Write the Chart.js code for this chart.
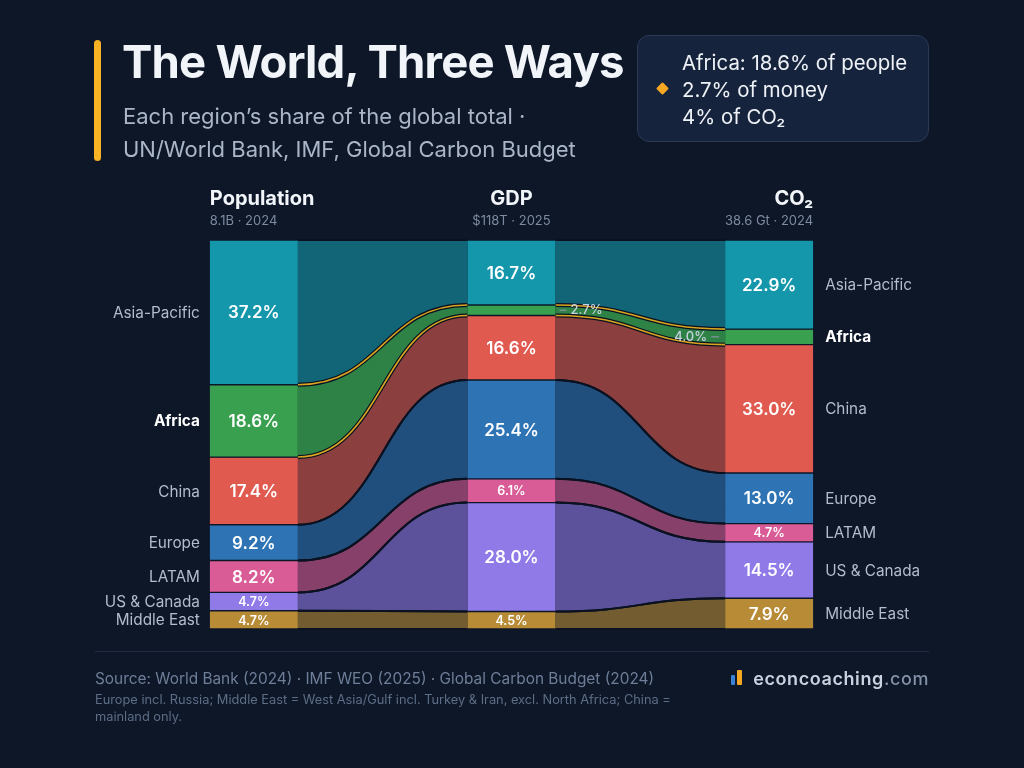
<!DOCTYPE html>
<html>
<head>
<meta charset="utf-8">
<script src="https://cdn.jsdelivr.net/npm/chart.js@4.4.1/dist/chart.umd.min.js"></script>
<style>
  html, body { margin: 0; padding: 0; background: #0d1728; }
  body { width: 1024px; height: 768px; position: relative; overflow: hidden; font-family: Inter, "Noto Sans", sans-serif; }
  #chart { position: absolute; left: 0; top: 0; }
  .accent { position: absolute; left: 94px; top: 40px; width: 7px; height: 121px; border-radius: 4px; background: #f7b324; }
  .title { position: absolute; left: 122px; top: 37px; font-size: 45.5px; line-height: 50px; font-weight: 700; color: #f1f4f8; letter-spacing: -0.8px; white-space: nowrap; }
  .subtitle { position: absolute; left: 123px; top: 100px; font-size: 22px; line-height: 33px; color: #aab6c8; }
  .tip { position: absolute; left: 637px; top: 35px; width: 290px; height: 105px; background: #16233c; border: 1px solid #2a3a55; border-radius: 12px; }
  .tip .lines { position: absolute; left: 44px; top: 13px; font-size: 20.4px; line-height: 27px; color: #eef2f7; white-space: nowrap; }
  .tip .diamond { position: absolute; left: 20px; top: 48px; width: 9px; height: 9px; background: #f5a623; transform: rotate(45deg); border-radius: 1px; }
  .rule { position: absolute; left: 95px; top: 651px; width: 834px; height: 1px; background: #1f2b42; }
  .source { position: absolute; left: 95px; top: 668px; font-size: 15.4px; line-height: 22px; color: #6e7e98; white-space: nowrap; }
  .notes { position: absolute; left: 95px; top: 691px; font-size: 12.8px; line-height: 17px; color: #5d6d86; white-space: nowrap; }
  .logo { position: absolute; right: 95px; top: 667px; font-size: 18px; line-height: 24px; font-weight: 600; color: #c9d3e0; letter-spacing: 0.6px; }
  .logo span { color: #8391a8; font-weight: 500; }
  .bar1 { position: absolute; left: 731px; top: 675px; width: 4px; height: 10px; background: #3b82d6; border-radius: 1px; }
  .bar2 { position: absolute; left: 737px; top: 670px; width: 5px; height: 15px; background: #f5a623; border-radius: 1px; }
</style>
</head>
<body>
<canvas id="chart" width="1024" height="768"></canvas>
<div class="accent"></div>
<div class="title">The World, Three Ways</div>
<div class="subtitle">Each region’s share of the global total ·<br>UN/World Bank, IMF, Global Carbon Budget</div>
<div class="tip">
  <div class="diamond"></div>
  <div class="lines">Africa: 18.6% of people<br>2.7% of money<br>4% of CO₂</div>
</div>
<div class="rule"></div>
<div class="source">Source: World Bank (2024) · IMF WEO (2025) · Global Carbon Budget (2024)</div>
<div class="notes">Europe incl. Russia; Middle East = West Asia/Gulf incl. Turkey &amp; Iran, excl. North Africa; China =<br>mainland only.</div>
<div class="bar1"></div><div class="bar2"></div>
<div class="logo">econcoaching<span>.com</span></div>
<script>
// Dữ liệu: tỷ trọng (%) của từng khu vực
const regions = ['Asia-Pacific', 'Africa', 'China', 'Europe', 'LATAM', 'US & Canada', 'Middle East'];
const measures = ['Population', 'GDP', 'CO₂'];
const measureNotes = ['8.1B · 2024', '$118T · 2025', '38.6 Gt · 2024'];
const populationShare = [37.2, 18.6, 17.4, 9.2, 8.2, 4.7, 4.7];
const gdpShare = [16.7, 2.7, 16.6, 25.4, 6.1, 28.0, 4.5];
const co2Share = [22.9, 4.0, 33.0, 13.0, 4.7, 14.5, 7.9];
const regionColors = ['#1597ab', '#38a04f', '#e05a4f', '#2e74b5', '#d95c96', '#8f7ae8', '#b88c36'];
const highlightRegion = 'Africa';

const BG = '#0d1728';

function hexToRgba(hex, a) {
    const n = parseInt(hex.slice(1), 16);
    return `rgba(${(n >> 16) & 255}, ${(n >> 8) & 255}, ${n & 255}, ${a})`;
}

// Vẽ các dải nối giữa các cột
const flowPlugin = {
    id: 'flows',
    beforeDatasetsDraw(chart) {
        const ctx = chart.ctx;
        const paths = [];
        const hi = regions.indexOf(highlightRegion);
        chart.data.datasets.forEach((ds, d) => {
            const meta = chart.getDatasetMeta(d);
            for (let c = 0; c < meta.data.length - 1; c++) {
                const a = meta.data[c], b = meta.data[c + 1];
                const x1 = a.x + a.width / 2, x2 = b.x - b.width / 2;
                const xm = (x1 + x2) / 2;
                const aTop = Math.min(a.y, a.base), aBot = Math.max(a.y, a.base);
                const bTop = Math.min(b.y, b.base), bBot = Math.max(b.y, b.base);
                ctx.save();
                ctx.beginPath();
                ctx.moveTo(x1, aTop);
                ctx.bezierCurveTo(xm, aTop, xm, bTop, x2, bTop);
                ctx.lineTo(x2, bBot);
                ctx.bezierCurveTo(xm, bBot, xm, aBot, x1, aBot);
                ctx.closePath();
                ctx.fillStyle = hexToRgba(regionColors[d], d === hi ? 0.78 : 0.6);
                ctx.fill();
                ctx.restore();
                paths.push({ d, x1, x2, xm, aTop, aBot, bTop, bBot });
            }
        });
        const edge = (p, top) => {
            ctx.beginPath();
            const ya = top ? p.aTop : p.aBot, yb = top ? p.bTop : p.bBot;
            ctx.moveTo(p.x1, ya);
            ctx.bezierCurveTo(p.xm, ya, p.xm, yb, p.x2, yb);
            ctx.stroke();
        };
        ctx.save();
        ctx.strokeStyle = '#0a1120';
        ctx.lineWidth = 2;
        paths.forEach(p => { edge(p, true); edge(p, false); });
        paths.filter(p => p.d === hi).forEach(p => {
            ctx.strokeStyle = '#0a1120';
            ctx.lineWidth = 4;
            edge(p, true); edge(p, false);
            ctx.strokeStyle = '#d9a521';
            ctx.lineWidth = 1.6;
            edge(p, true); edge(p, false);
        });
        ctx.restore();
    },
    afterDatasetsDraw(chart) {
        const ctx = chart.ctx;
        const area = chart.chartArea;
        ctx.save();
        ctx.textBaseline = 'middle';
        chart.data.datasets.forEach((ds, d) => {
            const meta = chart.getDatasetMeta(d);
            meta.data.forEach((el, c) => {
                const top = Math.min(el.y, el.base), bot = Math.max(el.y, el.base);
                const h = bot - top, cy = (top + bot) / 2;
                const txt = ds.data[c].toFixed(1) + '%';
                if (h >= 16) {
                    ctx.fillStyle = '#ffffff';
                    ctx.textAlign = 'center';
                    ctx.font = h >= 26 ? '600 17px Inter' : '600 12.5px Inter';
                    ctx.fillText(txt, el.x, cy + 1);
                } else {
                    ctx.fillStyle = '#c8d2e0';
                    ctx.strokeStyle = '#8995a8';
                    ctx.lineWidth = 1.2;
                    ctx.font = '500 13px Inter';
                    if (c === meta.data.length - 1) {
                        const xe = el.x - el.width / 2;
                        ctx.beginPath(); ctx.moveTo(xe - 14, cy); ctx.lineTo(xe - 6, cy); ctx.stroke();
                        ctx.textAlign = 'right';
                        ctx.fillText(txt, xe - 18, cy);
                    } else {
                        const xs = el.x + el.width / 2;
                        ctx.beginPath(); ctx.moveTo(xs + 4, cy); ctx.lineTo(xs + 11, cy); ctx.stroke();
                        ctx.textAlign = 'left';
                        ctx.fillText(txt, xs + 15, cy);
                    }
                }
            });
            // Nhãn khu vực hai bên
            const first = meta.data[0], last = meta.data[meta.data.length - 1];
            const isHi = ds.label === highlightRegion;
            ctx.fillStyle = isHi ? '#ffffff' : '#b2bccb';
            ctx.font = (isHi ? '700 ' : '400 ') + '15.3px Inter';
            ctx.textAlign = 'right';
            ctx.fillText(ds.label, first.x - first.width / 2 - 10, (first.y + first.base) / 2 + 1);
            ctx.textAlign = 'left';
            ctx.fillText(ds.label, last.x + last.width / 2 + 12, (last.y + last.base) / 2 + 1);
        });
        // Tiêu đề các cột
        const meta0 = chart.getDatasetMeta(0);
        measures.forEach((m, c) => {
            const el = meta0.data[c];
            let x = el.x, align = 'center';
            if (c === 0) { x = el.x - el.width / 2; align = 'left'; }
            if (c === measures.length - 1) { x = el.x + el.width / 2; align = 'right'; }
            ctx.textAlign = align;
            ctx.fillStyle = '#f1f4f8';
            ctx.font = '700 20px Inter';
            ctx.fillText(m, x, area.top - 41);
            ctx.fillStyle = '#7d8aa0';
            ctx.font = '400 13px Inter';
            ctx.fillText(measureNotes[c], x, area.top - 19);
        });
        ctx.restore();
    }
};

const datasets = regions.map((r, i) => ({
    label: r,
    data: [populationShare[i], gdpShare[i], co2Share[i]],
    backgroundColor: regionColors[i],
    borderColor: BG,
    borderWidth: { top: 1, bottom: 1, left: 0, right: 0 },
    borderSkipped: false,
    barThickness: 88
}));

Chart.defaults.font.family = 'Inter';

const ctx = document.getElementById('chart').getContext('2d');
new Chart(ctx, {
    type: 'bar',
    data: { labels: measures, datasets: datasets },
    options: {
        responsive: false,
        animation: false,
        layout: { padding: { left: 125, right: 126, top: 240, bottom: 139 } },
        scales: {
            x: { stacked: true, display: false },
            y: { stacked: true, display: false, reverse: true, min: 0, max: 100 }
        },
        plugins: {
            legend: { display: false },
            tooltip: { enabled: false }
        }
    },
    plugins: [flowPlugin]
});
</script>
</body>
</html>
